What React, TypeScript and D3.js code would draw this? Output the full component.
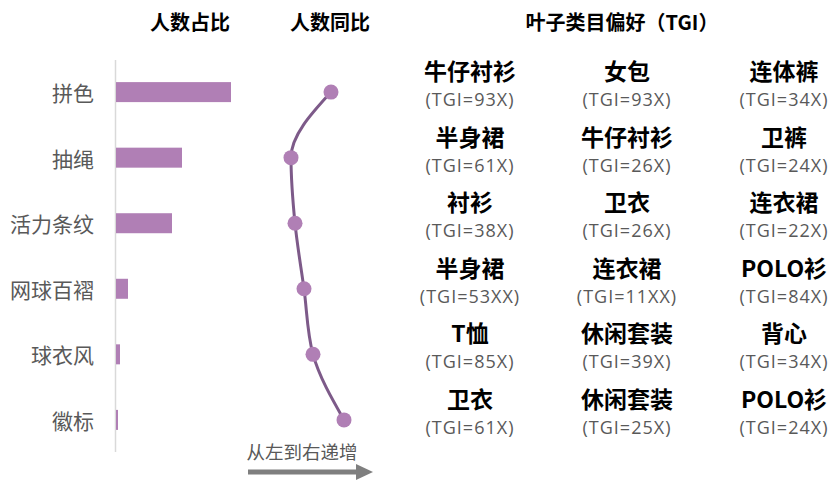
import React, { useEffect, useRef } from "react";
import * as d3 from "d3";

const categories = ["拼色", "抽绳", "活力条纹", "网球百褶", "球衣风", "徽标"];
const shareValues = [23, 13.2, 11.2, 2.4, 0.8, 0.4];
const yoyValues = [55, 15, 19, 28, 37, 68];

const tgiCol1 = ["牛仔衬衫", "半身裙", "衬衫", "半身裙", "T恤", "卫衣"];
const tgiCol1Val = ["93X", "61X", "38X", "53XX", "85X", "61X"];
const tgiCol2 = ["女包", "牛仔衬衫", "卫衣", "连衣裙", "休闲套装", "休闲套装"];
const tgiCol2Val = ["93X", "26X", "26X", "11XX", "39X", "25X"];
const tgiCol3 = ["连体裤", "卫裤", "连衣裙", "POLO衫", "背心", "POLO衫"];
const tgiCol3Val = ["34X", "24X", "22X", "84X", "34X", "24X"];

const W = 829;
const H = 482;
const CJK = "'Noto Sans CJK SC', 'Noto Sans', sans-serif";
const LATIN = "'Open Sans', 'Noto Sans', sans-serif";

const App = () => {
  const ref = useRef<SVGSVGElement>(null);

  useEffect(() => {
    const svg = d3.select(ref.current);
    svg.selectAll("*").remove();

    // rows
    const y = d3
      .scaleBand()
      .domain(categories)
      .range([59, 453])
      .paddingInner(0.69)
      .paddingOuter(0.35);
    const yc = (c: string) => (y(c) as number) + y.bandwidth() / 2;

    // headers
    const head = svg.append("g").attr("font-family", CJK).attr("font-weight", 700).attr("font-size", 20).attr("fill", "#000");
    head.append("text").attr("x", 190).attr("y", 21).attr("text-anchor", "middle").attr("dominant-baseline", "central").text("人数占比");
    head.append("text").attr("x", 330).attr("y", 21).attr("text-anchor", "middle").attr("dominant-baseline", "central").text("人数同比");
    head.append("text").attr("x", 622).attr("y", 21).attr("text-anchor", "middle").attr("dominant-baseline", "central").text("叶子类目偏好（TGI）");

    // category labels
    svg
      .append("g")
      .selectAll("text")
      .data(categories)
      .join("text")
      .attr("x", 94)
      .attr("y", (d) => yc(d))
      .attr("text-anchor", "end")
      .attr("dominant-baseline", "central")
      .attr("font-family", CJK)
      .attr("font-size", 21)
      .attr("fill", "#595959")
      .text((d) => d);

    // axis line
    svg.append("line").attr("x1", 115.5).attr("x2", 115.5).attr("y1", 60).attr("y2", 452).attr("stroke", "#d9d9d9").attr("stroke-width", 1.5);

    // bars
    const x = d3.scaleLinear().domain([0, 40]).range([116, 316]);
    svg
      .append("g")
      .attr("fill", "#b07fb5")
      .selectAll("rect")
      .data(shareValues)
      .join("rect")
      .attr("x", x(0))
      .attr("y", (d, i) => yc(categories[i]) - 10)
      .attr("width", (d) => x(d) - x(0))
      .attr("height", 20);

    // yoy line
    const xl = d3.scaleLinear().domain([0, 100]).range([276, 376]);
    const pts: [number, number][] = yoyValues.map((v, i) => [xl(v), yc(categories[i])]);
    const line = d3.line().curve(d3.curveMonotoneY);
    svg.append("path").attr("d", line(pts)).attr("fill", "none").attr("stroke", "#7d5a89").attr("stroke-width", 3);
    svg
      .append("g")
      .selectAll("circle")
      .data(pts)
      .join("circle")
      .attr("cx", (d) => d[0])
      .attr("cy", (d) => d[1])
      .attr("r", 7.5)
      .attr("fill", "#b07fb5");

    // arrow
    svg.append("text").attr("x", 302).attr("y", 451).attr("text-anchor", "middle").attr("dominant-baseline", "central").attr("font-family", CJK).attr("font-size", 18.5).attr("fill", "#595959").text("从左到右递增");
    svg.append("line").attr("x1", 248).attr("x2", 358).attr("y1", 472).attr("y2", 472).attr("stroke", "#7f7f7f").attr("stroke-width", 5);
    svg.append("path").attr("d", "M356,464 L373,472 L356,480 Z").attr("fill", "#7f7f7f");

    // TGI grid
    const cols = [
      { names: tgiCol1, vals: tgiCol1Val },
      { names: tgiCol2, vals: tgiCol2Val },
      { names: tgiCol3, vals: tgiCol3Val },
    ];
    const xc = d3.scalePoint<number>().domain([0, 1, 2]).range([470, 784]);
    cols.forEach((col, ci) => {
      const g = svg.append("g");
      g.selectAll("text.n")
        .data(col.names)
        .join("text")
        .attr("class", "n")
        .attr("x", xc(ci) as number)
        .attr("y", (d, i) => yc(categories[i]) - 12)
        .attr("text-anchor", "middle")
        .attr("font-family", CJK)
        .attr("font-weight", 700)
        .attr("font-size", 23)
        .attr("fill", "#000")
        .text((d) => d);
      g.selectAll("text.v")
        .data(col.vals)
        .join("text")
        .attr("class", "v")
        .attr("x", xc(ci) as number)
        .attr("y", (d, i) => yc(categories[i]) + 14)
        .attr("text-anchor", "middle")
        .attr("font-family", LATIN)
        .attr("font-size", 18)
        .attr("letter-spacing", 1)
        .attr("fill", "#595959")
        .text((d) => `(TGI=${d})`);
    });
  }, []);

  return (
    <div>
      <svg ref={ref} width={W} height={H} style={{ display: "block", position: "absolute", left: 0, top: 0 }}></svg>
    </div>
  );
};

export default App;
